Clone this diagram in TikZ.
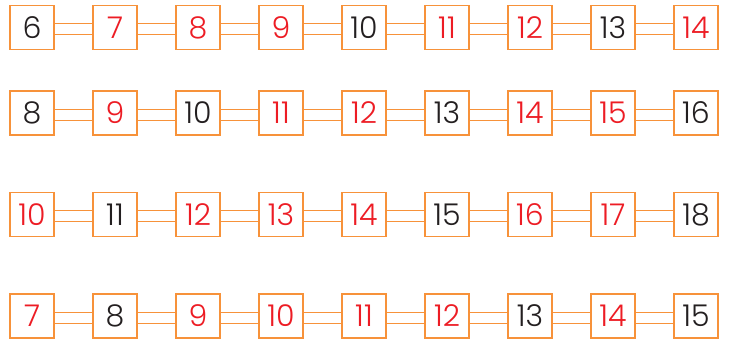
\documentclass[tikz,border=0pt]{standalone}
\usepackage{fontspec}
\newfontfamily\numfont{Poppins Light}
\definecolor{boxorange}{HTML}{F7923A}
\definecolor{numred}{HTML}{ED1C24}
\definecolor{numblack}{HTML}{231F20}
\newcommand{\drawnumrow}[3]{%
  \foreach \n/\st [count=\i from 0] in {#1} {
    \node[\st] (#3\i) at (32+83*\i,#2) {\n};
  }
  \foreach \i [evaluate=\i as \j using int(\i+1)] in {0,...,7}{
    \draw[link] ([yshift=3.7pt]#3\i.east) -- ([yshift=3.7pt]#3\j.west);
    \draw[link] ([yshift=-7.2pt]#3\i.east) -- ([yshift=-7.2pt]#3\j.west);
  }
}
\begin{document}
\begin{tikzpicture}[x=1pt,y=-1pt,
  cell/.style={draw=boxorange,line width=1.3pt,fill=white,minimum size=44pt,inner sep=0pt,text depth=-2pt,font=\numfont\fontsize{30}{30}\selectfont},
  rd/.style={cell,text=numred},
  bk/.style={cell,text=numblack},
  link/.style={draw=boxorange,line width=1.3pt}]
\useasboundingbox (0,0) rectangle (731,345);
\drawnumrow{6/bk,7/rd,8/rd,9/rd,10/bk,11/rd,12/rd,13/bk,14/rd}{27.5}{a}
\drawnumrow{8/bk,9/rd,10/bk,11/rd,12/rd,13/bk,14/rd,15/rd,16/bk}{113}{b}
\drawnumrow{10/rd,11/bk,12/rd,13/rd,14/rd,15/bk,16/rd,17/rd,18/bk}{214.5}{c}
\drawnumrow{7/rd,8/bk,9/rd,10/rd,11/rd,12/rd,13/bk,14/rd,15/bk}{316}{d}
\end{tikzpicture}
\end{document}
